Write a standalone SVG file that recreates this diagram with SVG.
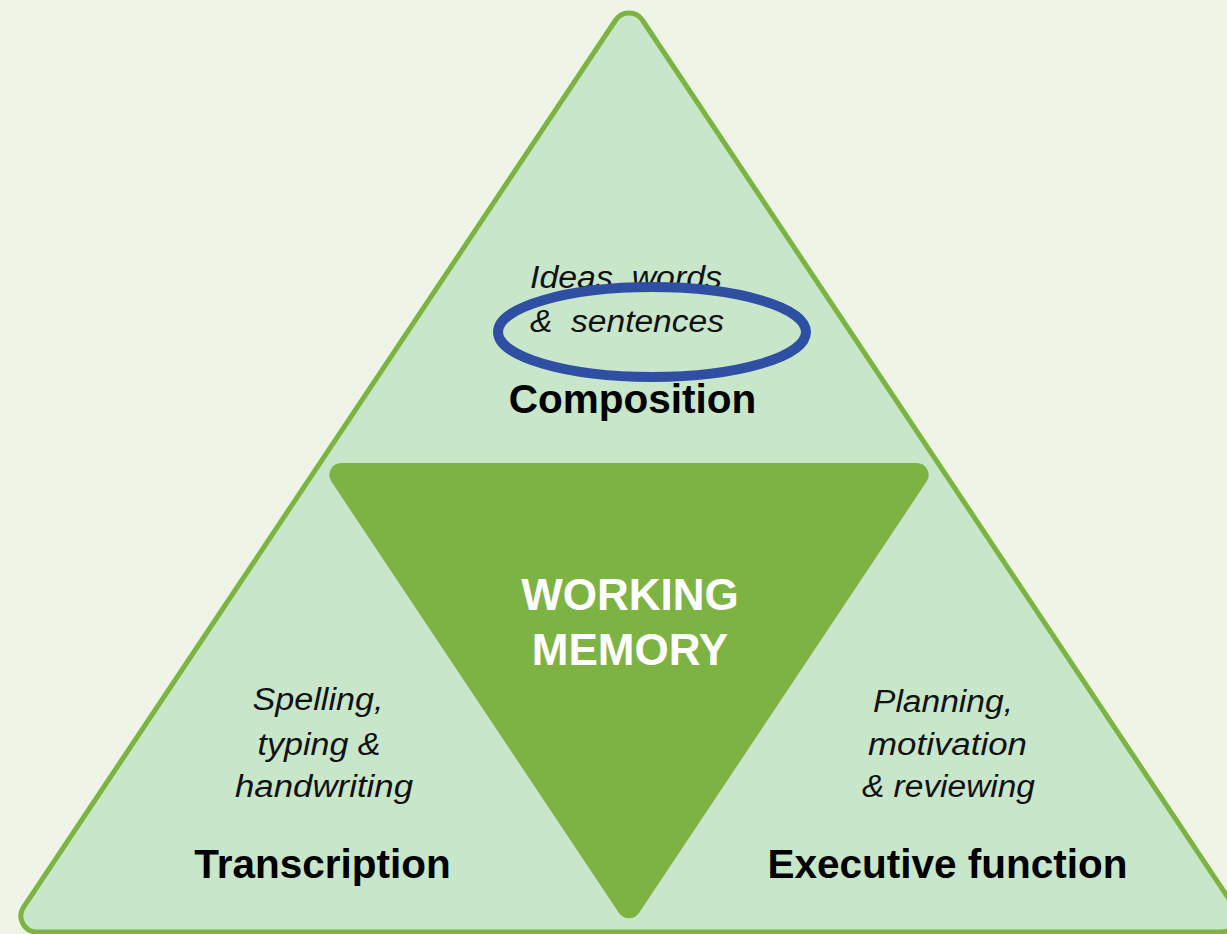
<svg xmlns="http://www.w3.org/2000/svg" width="1227" height="934" viewBox="0 0 1227 934">
<style>
.it{font-family:"Liberation Sans",Arial,sans-serif;font-style:italic;font-size:31px;fill:#111}
.bd{font-family:"Liberation Sans",Arial,sans-serif;font-weight:bold;font-size:40.5px;fill:#000;text-anchor:middle}
.wm{font-family:"Liberation Sans",Arial,sans-serif;font-weight:bold;font-size:44px;fill:#fff;text-anchor:middle}
.mid{text-anchor:middle}
</style>
<rect width="1227" height="934" fill="#EEF5E6"/>
<g id="outer-triangle">
<path d="M615.7,20 L23.6,907.1 A16 16 0 0 0 36.9,932 L1221.1,932 A16 16 0 0 0 1234.4,907.1 L642.3,20 A16 16 0 0 0 615.7,20 Z" fill="#C8E6C9" stroke="#7CB342" stroke-width="5"/>
</g>
<g id="composition">
<text class="it" x="530" y="288" textLength="192" lengthAdjust="spacingAndGlyphs">Ideas, words</text>
<text class="it" x="530" y="332" textLength="194" lengthAdjust="spacingAndGlyphs" xml:space="preserve">&amp;  sentences</text>
<text class="bd" x="632.5" y="413">Composition</text>
</g>
<g id="highlight">
<ellipse cx="652" cy="332" rx="154" ry="45" fill="none" stroke="#2F4FA3" stroke-width="10"/>
</g>
<g id="working-memory">
<path d="M341.4,463 L916.6,463 A12 12 0 0 1 926.6,481.6 L639,913 A12 12 0 0 1 619,913 L331.4,481.6 A12 12 0 0 1 341.4,463 Z" fill="#7DB343"/>
<text class="wm" x="630" y="610">WORKING</text>
<text class="wm" x="630" y="665">MEMORY</text>
</g>
<g id="transcription">
<text class="it mid" x="318" y="710" textLength="131" lengthAdjust="spacingAndGlyphs">Spelling,</text>
<text class="it mid" x="319" y="755" textLength="123" lengthAdjust="spacingAndGlyphs">typing &amp;</text>
<text class="it mid" x="324" y="797" textLength="178" lengthAdjust="spacingAndGlyphs">handwriting</text>
<text class="bd" x="322.5" y="878">Transcription</text>
</g>
<g id="executive-function">
<text class="it mid" x="943" y="712" textLength="140" lengthAdjust="spacingAndGlyphs">Planning,</text>
<text class="it mid" x="947.5" y="755" textLength="159" lengthAdjust="spacingAndGlyphs">motivation</text>
<text class="it mid" x="948.5" y="797" textLength="173" lengthAdjust="spacingAndGlyphs">&amp; reviewing</text>
<text class="bd" x="947.5" y="878">Executive function</text>
</g>
<g id="connectors"/>
</svg>
